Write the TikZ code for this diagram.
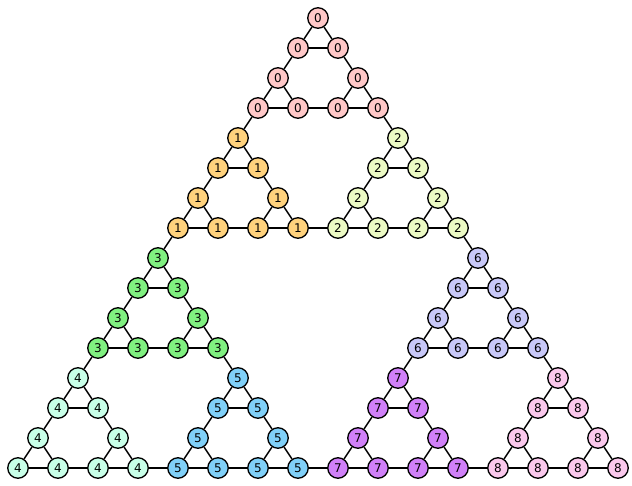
\documentclass[tikz,border=0pt]{standalone}
\usepackage{fontspec}
\setmainfont{DejaVu Sans}
\usepackage{tikz}

\definecolor{col0}{RGB}{255,200,200}
\definecolor{col1}{RGB}{255,210,125}
\definecolor{col2}{RGB}{236,250,196}
\definecolor{col3}{RGB}{128,240,128}
\definecolor{col4}{RGB}{200,255,232}
\definecolor{col5}{RGB}{128,208,248}
\definecolor{col6}{RGB}{200,200,248}
\definecolor{col7}{RGB}{208,128,248}
\definecolor{col8}{RGB}{250,200,236}

\begin{document}
\begin{tikzpicture}[x=1pt,y=-1pt]

\tikzset{vertex/.style = {shape=circle,draw,line width=1.3pt,minimum size=20.5pt,inner sep=0pt,font=\fontsize{12}{12}\selectfont}}
\tikzset{every path/.style = {line width=1.4pt}}
\useasboundingbox (0,0) rectangle (632,486);

% vertices: address a b c d, offsets of 8, 4, 2 and 1 steps
\foreach \a/\ax/\ay in {0/0/0,1/-1/1,2/1/1}
 \foreach \b/\bx/\by in {0/0/0,1/-1/1,2/1/1}
  \foreach \c/\cx/\cy in {0/0/0,1/-1/1,2/1/1}
   \foreach \d/\dx/\dy in {0/0/0,1/-1/1,2/1/1}{
    \pgfmathtruncatemacro{\g}{3*\a+\b}
    \pgfmathsetmacro{\px}{318+20*(8*\ax+4*\bx+2*\cx+\dx)}
    \pgfmathsetmacro{\py}{18+30*(8*\ay+4*\by+2*\cy+\dy)}
    \node[vertex,fill=col\g] (v\a\b\c\d) at (\px,\py) {\g};
   }

%edges
\foreach \a in {0,1,2}
 \foreach \b in {0,1,2}{
  \foreach \c in {0,1,2}{
   \path (v\a\b\c0) edge (v\a\b\c1);
   \path (v\a\b\c0) edge (v\a\b\c2);
   \path (v\a\b\c1) edge (v\a\b\c2);
  }
  \path (v\a\b01) edge (v\a\b10);
  \path (v\a\b02) edge (v\a\b20);
  \path (v\a\b12) edge (v\a\b21);
 }
\foreach \a in {0,1,2}{
 \path (v\a011) edge (v\a100);
 \path (v\a022) edge (v\a200);
 \path (v\a122) edge (v\a211);
}
\path (v0111) edge (v1000);
\path (v0222) edge (v2000);
\path (v1222) edge (v2111);

\end{tikzpicture}
\end{document}
